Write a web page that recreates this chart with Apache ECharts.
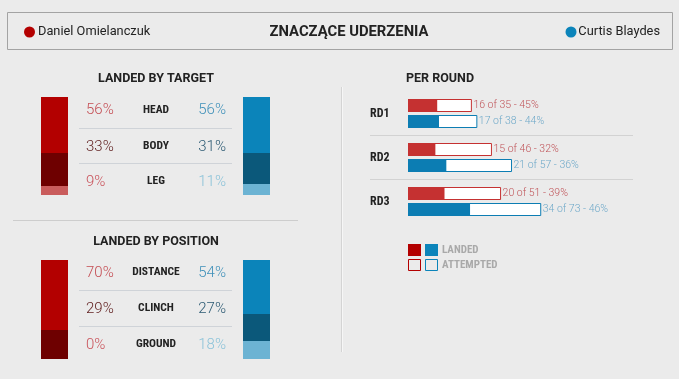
<!DOCTYPE html>
<html><head><meta charset="utf-8">
<script src="https://cdn.jsdelivr.net/npm/echarts@6/dist/echarts.min.js"></script>
<style>html,body{margin:0;padding:0;background:#ebebeb;}#c{width:679px;height:379px;}</style>
</head><body><div id="c"></div>
<script>
// ---- data ----
var fighterRed = 'Daniel Omielanczuk';
var fighterBlue = 'Curtis Blaydes';
var title = 'ZNACZĄCE UDERZENIA';
var targetCats = ['HEAD', 'BODY', 'LEG'];
var redTarget = [56, 33, 9];
var blueTarget = [56, 31, 11];
var positionCats = ['DISTANCE', 'CLINCH', 'GROUND'];
var redPosition = [70, 29, 0];
var bluePosition = [54, 27, 18];
var rounds = ['RD1', 'RD2', 'RD3'];
var redLanded = [16, 15, 20];
var redAttempted = [35, 46, 51];
var redPct = [45, 32, 39];
var blueLanded = [17, 21, 34];
var blueAttempted = [38, 57, 73];
var bluePct = [44, 36, 46];

// ---- style ----
var NARROW = '"Liberation Sans Narrow", "Roboto Condensed", Roboto, sans-serif';
var REG = 'Roboto, "Liberation Sans", sans-serif';
var redShades = ['#b30000', '#6e0000', '#c95c5c'];
var blueShades = ['#0b84ba', '#0b587a', '#6cb3d3'];
var redTextShades = ['#c44d53', '#5e1c1c', '#c9525a'];
var blueTextShades = ['#3f90b9', '#2c5a73', '#8cc3d9'];
var rdRed = '#c53131', rdBlue = '#0c7db3';

var chart = echarts.init(document.getElementById('c'));

var grids = [], xAxes = [], yAxes = [], series = [], graphics = [];

function stackGrid(left, top, values, shades) {
  var gi = grids.length;
  grids.push({left: left, top: top, width: 27, height: 100});
  xAxes.push({type: 'category', data: ['x'], gridIndex: gi, show: false});
  yAxes.push({type: 'value', min: 0, max: 100, inverse: true, gridIndex: gi, show: false});
  values.forEach(function (v, i) {
    series.push({type: 'bar', xAxisIndex: gi, yAxisIndex: gi, stack: 's' + gi,
      barWidth: '100%', data: [v], itemStyle: {color: shades[i]}, silent: true});
  });
}
stackGrid(41, 97, redTarget, redShades);
stackGrid(243, 97, blueTarget, blueShades);
stackGrid(41, 260, redPosition, redShades);
stackGrid(243, 260, bluePosition, blueShades);

function roundGrid(top, landed, attempted, pct, col, labelCol) {
  var gi = grids.length;
  grids.push({left: 408, top: top, width: 182.5, height: 132});
  xAxes.push({type: 'value', min: 0, max: 100, gridIndex: gi, show: false});
  yAxes.push({type: 'category', data: rounds, inverse: true, gridIndex: gi, show: false});
  series.push({type: 'bar', xAxisIndex: gi, yAxisIndex: gi, barWidth: 13, data: attempted,
    itemStyle: {color: '#ffffff', borderColor: col, borderWidth: 1}, silent: true,
    label: {show: true, position: 'right', distance: 1.5, color: labelCol, fontFamily: REG, fontSize: 10.5, fontWeight: 300,
      formatter: function (p) { return landed[p.dataIndex] + ' of ' + attempted[p.dataIndex] + ' - ' + pct[p.dataIndex] + '%'; }}});
  series.push({type: 'bar', xAxisIndex: gi, yAxisIndex: gi, barWidth: 13, barGap: '-100%', data: landed,
    itemStyle: {color: col}, silent: true});
}
roundGrid(83.5, redLanded, redAttempted, redPct, rdRed, '#c0555a');
roundGrid(99.5, blueLanded, blueAttempted, bluePct, rdBlue, '#6fa9c9');

// header
graphics.push({type: 'rect', shape: {x: 7.5, y: 12.5, width: 665, height: 37}, style: {fill: 'none', stroke: '#a3a3a3', lineWidth: 1}});
graphics.push({type: 'circle', shape: {cx: 29.5, cy: 32, r: 5.5}, style: {fill: '#b30000'}});
graphics.push({type: 'circle', shape: {cx: 571, cy: 32, r: 5.5}, style: {fill: '#0b84ba'}});
graphics.push({type: 'text', x: 38, y: 32, style: {text: fighterRed, fill: '#222', font: '12.8px ' + REG, textVerticalAlign: 'middle'}});
graphics.push({type: 'text', x: 349, y: 32, style: {text: title, fill: '#222', font: 'bold 14.8px ' + REG, textAlign: 'center', textVerticalAlign: 'middle'}});
graphics.push({type: 'text', x: 660, y: 32, style: {text: fighterBlue, fill: '#222', font: '12.8px ' + REG, textAlign: 'right', textVerticalAlign: 'middle'}});

// section titles
function centerText(x, y, t, font, col, align) {
  graphics.push({type: 'text', x: x, y: y, style: {text: t, fill: col, font: font, textAlign: align || 'center', textVerticalAlign: 'middle'}});
}
centerText(156, 79, 'LANDED BY TARGET', 'bold 12.5px ' + REG, '#222');
centerText(156, 242, 'LANDED BY POSITION', 'bold 12.5px ' + REG, '#222');
centerText(406, 79, 'PER ROUND', 'bold 12.5px ' + REG, '#222', 'left');

function rows(ys, cats, rv, bv) {
  cats.forEach(function (c, i) {
    centerText(86, ys[i], rv[i] + '%', '300 15px ' + REG, redTextShades[i], 'left');
    centerText(156, ys[i] - 0.5, c, 'bold 11.5px ' + NARROW, '#222');
    centerText(226, ys[i], bv[i] + '%', '300 15px ' + REG, blueTextShades[i], 'right');
  });
}
rows([110.5, 147, 182], targetCats, redTarget, blueTarget);
rows([273, 309, 345], positionCats, redPosition, bluePosition);

function hline(x1, x2, y, col) {
  graphics.push({type: 'line', shape: {x1: x1, y1: y, x2: x2, y2: y}, style: {stroke: col, lineWidth: 1}});
}
hline(79, 232, 128.5, '#cfd3d8');
hline(79, 232, 163.5, '#cfd3d8');
hline(79, 232, 290.5, '#cfd3d8');
hline(79, 232, 326.5, '#cfd3d8');
hline(13, 298, 220.5, '#cdcdcd');
hline(370, 633, 135.5, '#d2d2d2');
hline(370, 633, 179.5, '#d2d2d2');
graphics.push({type: 'line', shape: {x1: 341.5, y1: 87, x2: 341.5, y2: 352}, style: {stroke: '#d4d4d4', lineWidth: 1}});
graphics.push({type: 'line', shape: {x1: 342.5, y1: 87, x2: 342.5, y2: 352}, style: {stroke: '#f6f6f6', lineWidth: 1}});

// round labels
[114, 158, 202].forEach(function (y, i) {
  centerText(370, y, rounds[i], 'bold 12px ' + NARROW, '#222', 'left');
});

// legend
graphics.push({type: 'rect', shape: {x: 408, y: 244, width: 13, height: 12}, style: {fill: '#b30000'}});
graphics.push({type: 'rect', shape: {x: 425, y: 244, width: 13, height: 12}, style: {fill: '#0b84ba'}});
graphics.push({type: 'rect', shape: {x: 408.5, y: 259.5, width: 12, height: 11}, style: {fill: 'none', stroke: '#b30000', lineWidth: 1}});
graphics.push({type: 'rect', shape: {x: 425.5, y: 259.5, width: 12, height: 11}, style: {fill: 'none', stroke: '#0b84ba', lineWidth: 1}});
centerText(442, 250, 'LANDED', 'bold 11px ' + NARROW, '#a9a9a9', 'left');
centerText(442, 265, 'ATTEMPTED', 'bold 11px ' + NARROW, '#a9a9a9', 'left');

chart.setOption({
  backgroundColor: '#ebebeb',
  animation: false,
  grid: grids, xAxis: xAxes, yAxis: yAxes, series: series,
  graphic: graphics
});
</script></body></html>
